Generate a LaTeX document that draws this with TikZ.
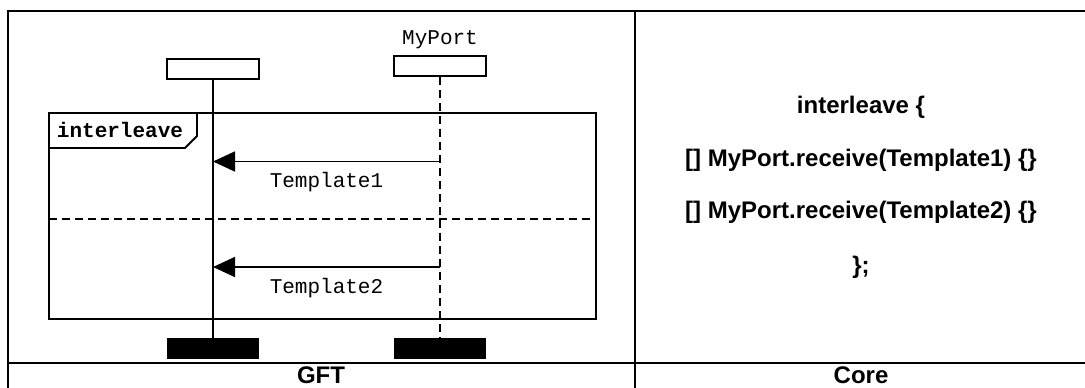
\documentclass[tikz,border=0pt]{standalone}
\usepackage{fontspec}
\setmainfont{Liberation Sans}
\newfontfamily\courierfont{Liberation Mono}
\usetikzlibrary{arrows.meta,positioning}
\tikzset{
  ttcn table/.style={line width=1.1pt},
  ttcn instance/.style={
    draw,
    line width=0.9pt,
    minimum width=46pt,
    minimum height=10pt,
    inner sep=0pt
  },
  ttcn end/.style={
    fill=black,
    minimum width=46pt,
    minimum height=10.5pt,
    inner sep=0pt
  },
  ttcn lifeline/.style={line width=0.9pt},
  ttcn port line/.style={line width=0.9pt,dash pattern=on 4pt off 2.5pt},
  ttcn frame/.style={line width=0.9pt},
  ttcn separator/.style={line width=0.9pt,dash pattern=on 4pt off 2.5pt},
  ttcn msg/.style={-{Triangle[length=11pt,width=10pt]},line width=0.9pt},
  ttcn label/.style={font=\courierfont\fontsize{10.5}{12}\selectfont,inner sep=0pt},
  ttcn keyword/.style={font=\courierfont\bfseries\fontsize{10.5}{12}\selectfont,inner sep=0pt},
  ttcn core/.style={font=\bfseries\fontsize{12}{14}\selectfont,inner sep=0pt},
  ttcn head/.style={font=\bfseries\fontsize{12}{14}\selectfont,inner sep=0pt}
}

\begin{document}
\begin{tikzpicture}[x=0.5pt,y=-0.5pt]
  \useasboundingbox (0,0) rectangle (1085,387);

  % table
  \begin{scope}
    \clip (0,0) rectangle (1085,387);
    \draw[ttcn table] (8,11) rectangle (1100,400);
    \draw[ttcn table] (635,11) -- (635,400);
    \draw[ttcn table] (8,363) -- (1100,363);
  \end{scope}
  \node[ttcn head] (gft) at (321,375) {GFT};
  \node[ttcn head] (core) at (861,375) {Core};

  % instances
  \node[ttcn instance] (comp) at (213,69) {};
  \node[ttcn instance] (port) at (440,66) {};
  \node[ttcn label] (portname) at (440,40) {MyPort};
  \node[ttcn end] (compend) at (213,348.5) {};
  \node[ttcn end] (portend) at (440,348.5) {};
  \draw[ttcn lifeline] (comp.south) -- (compend.north);
  \draw[ttcn port line] (port.south) -- (portend.north);

  % interleave frame
  \draw[ttcn frame] (49,113) rectangle (596,319);
  \draw[ttcn frame] (49,148) -- (185,148) -- (197,136) -- (197,113);
  \node[ttcn keyword] (kw) at (120,130) {interleave};
  \draw[ttcn separator] (49,219) -- (596,219);

  % messages
  \coordinate (m1src) at (440,161.5);
  \coordinate (m1dst) at (213,161.5);
  \coordinate (m2src) at (440,267);
  \coordinate (m2dst) at (213,267);
  \draw[ttcn msg] (m1src) -- node[ttcn label,below=5pt] {Template1} (m1dst);
  \draw[ttcn msg] (m2src) -- node[ttcn label,below=5pt] {Template2} (m2dst);

  % core notation
  \node[ttcn core] (c1) at (861,107) {interleave \{};
  \node[ttcn core] (c2) at (861,160) {[] MyPort.receive(Template1) \{\}};
  \node[ttcn core] (c3) at (861,212) {[] MyPort.receive(Template2) \{\}};
  \node[ttcn core] (c4) at (861,267) {\};};
\end{tikzpicture}
\end{document}
